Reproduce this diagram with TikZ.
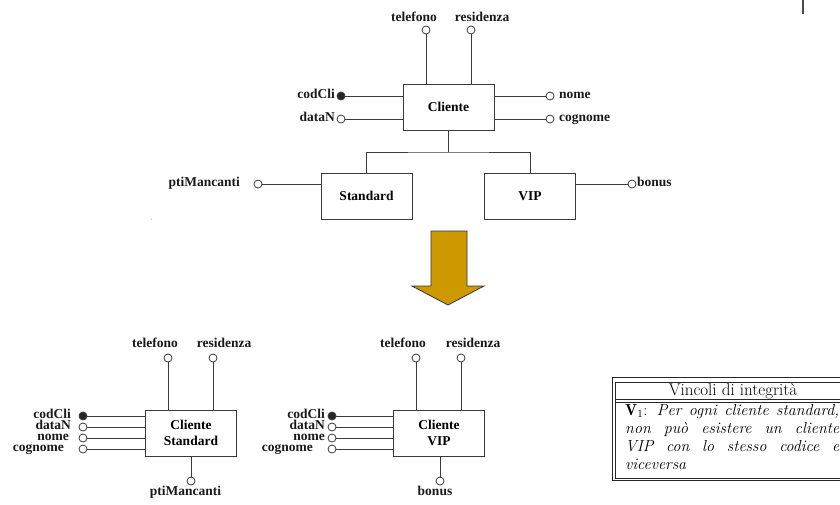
\documentclass[tikz,border=0pt]{standalone}
\usepackage{fontspec}
\newfontfamily\erfont{Liberation Serif}
\usetikzlibrary{calc}
\definecolor{lineg}{HTML}{3A3A3A}
\definecolor{arrowgold}{HTML}{CC9900}
\tikzset{
	entity/.style={draw=lineg, line width=1pt, minimum width=91pt, minimum height=46pt,
			inner sep=0pt, align=center, font=\erfont\bfseries\fontsize{13.5}{16.5}\selectfont},
	attr/.style={circle, draw=lineg, line width=0.8pt, fill=white, minimum size=8pt, inner sep=0pt},
	idattr/.style={attr, fill=black!85},
	lbl/.style={inner sep=0pt, text=black!90, font=\erfont\bfseries\fontsize{13.5}{16}\selectfont},
	link/.style={draw=lineg, line width=1pt},
	tbl/.style={draw=black!85, line width=0.9pt}
}

\begin{document}
\begin{tikzpicture}[x=1pt, y=-1pt]
	\useasboundingbox (0,0) rectangle (840,504);
	\clip (0,0) rectangle (840,504);

	% schema con gerarchia
	\node[entity] (cliente) at (448.5,107) {Cliente};
	\node[entity] (standard) at (366.5,196) {Standard};
	\node[entity] (vip) at (530,196) {VIP};

	\node[attr] (tel) at (426,30) {};
	\node[attr] (res) at (471,30) {};
	\node[idattr] (cod) at (341,96) {};
	\node[attr] (dat) at (341,119) {};
	\node[attr] (nom) at (550,96) {};
	\node[attr] (cog) at (550,119) {};
	\node[attr] (pti) at (258,184) {};
	\node[attr] (bon) at (632,184) {};

	\node[lbl, anchor=base] (tel-l) at (414,21) {telefono};
	\node[lbl, anchor=base] (res-l) at (482,21) {residenza};
	\node[lbl, anchor=mid east] (cod-l) at (335,96) {codCli};
	\node[lbl, anchor=mid east] (dat-l) at (335,119) {dataN};
	\node[lbl, anchor=mid west] (nom-l) at (559,96) {nome};
	\node[lbl, anchor=mid west] (cog-l) at (559,119) {cognome};
	\node[lbl, anchor=mid east] (pti-l) at (240,184) {ptiMancanti};
	\node[lbl, anchor=mid west] (bon-l) at (637,184) {bonus};

	\draw[link] (tel) -- (tel |- cliente.north);
	\draw[link] (res) -- (res |- cliente.north);
	\draw[link] (cod) -- (cod -| cliente.west);
	\draw[link] (dat) -- (dat -| cliente.west);
	\draw[link] (nom) -- (nom -| cliente.east);
	\draw[link] (cog) -- (cog -| cliente.east);
	\draw[link] (pti) -- (pti -| standard.west);
	\draw[link] (bon) -- (bon -| vip.east);

	\coordinate (fork) at (448.5,152);
	\draw[link] (cliente.south) -- (fork);
	\draw[link] (standard.north) |- (fork) -| (vip.north);

	\node[text=black!60, inner sep=0pt, font=\tiny] (tick) at (152,221) {`};
	\draw[black!70, line width=1.6pt] (803,0) -- (803,14);

	% freccia
	\filldraw[fill=arrowgold, draw=black!80, line width=0.8pt]
		(431,231) -- (467,231) -- (467,286) -- (484,286) -- (448,305)
		-- (412,286) -- (431,286) -- cycle;

	% Cliente Standard
	\node[entity] (cstd) at (191,433) {Cliente\\Standard};
	\node[attr] (tel2) at (168,358) {};
	\node[attr] (res2) at (213,358) {};
	\node[attr] (pti2) at (191,481) {};
	\node[lbl, anchor=base] (tel2-l) at (155,347) {telefono};
	\node[lbl, anchor=base] (res2-l) at (224,347) {residenza};
	\node[lbl, anchor=base] (pti2-l) at (185.5,495) {ptiMancanti};
	\draw[link] (tel2) -- (tel2 |- cstd.north);
	\draw[link] (res2) -- (res2 |- cstd.north);
	\draw[link] (pti2) -- (pti2 |- cstd.south);
	\foreach \n/\t/\y/\e/\s in {cod2/codCli/416/71/idattr, dat2/dataN/427/71/attr,
			nom2/nome/438/69/attr, cog2/cognome/449/64/attr} {
		\node[\s] (\n) at (83,\y) {};
		\node[lbl, anchor=mid east] (\n-l) at (\e,\y) {\t};
		\draw[link] (\n) -- (\n -| cstd.west);
	}

	% Cliente VIP
	\node[entity] (cvip) at (439,433) {Cliente\\VIP};
	\node[attr] (tel3) at (416,358) {};
	\node[attr] (res3) at (461,358) {};
	\node[attr] (bon3) at (440,481) {};
	\node[lbl, anchor=base] (tel3-l) at (403,347) {telefono};
	\node[lbl, anchor=base] (res3-l) at (473,347) {residenza};
	\node[lbl, anchor=base] (bon3-l) at (435,495) {bonus};
	\draw[link] (tel3) -- (tel3 |- cvip.north);
	\draw[link] (res3) -- (res3 |- cvip.north);
	\draw[link] (bon3) -- (bon3 |- cvip.south);
	\foreach \n/\t/\y/\e/\s in {cod3/codCli/416/325/idattr, dat3/dataN/427/325/attr,
			nom3/nome/438/325/attr, cog3/cognome/449/313/attr} {
		\node[\s] (\n) at (332,\y) {};
		\node[lbl, anchor=mid east] (\n-l) at (\e,\y) {\t};
		\draw[link] (\n) -- (\n -| cvip.west);
	}

	% vincoli
	\draw[tbl] (612.7,377.5) rectangle (860,480.5);
	\draw[tbl] (615.5,382) rectangle (860,478);
	\draw[tbl] (615.5,399.5) -- (860,399.5);
	\draw[tbl] (615.5,402.5) -- (860,402.5);
	\node[anchor=base, inner sep=0pt, font=\fontsize{17}{20}\selectfont] (vtitle) at (733,395) {Vincoli di integrità};
	\node[anchor=base west, inner sep=0pt, text width=214pt, align=justify,
		font=\fontsize{16}{18.3}\selectfont] (vtext) at (625,415)
		{$\mathbf{V}_1$: \textit{Per ogni cliente standard,\linebreak non può esistere un cliente\linebreak VIP con lo stesso codice e\linebreak viceversa}};
\end{tikzpicture}
\end{document}
